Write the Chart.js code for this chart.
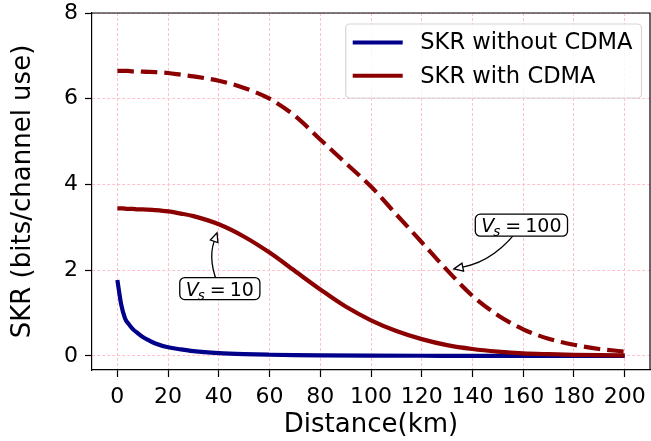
<!DOCTYPE html>
<html>
<head>
<meta charset="utf-8">
<script src="https://cdn.jsdelivr.net/npm/chart.js@4.4.0/dist/chart.umd.min.js"></script>
<style>
  html, body { margin: 0; padding: 0; background: #fff; }
</style>
</head>
<body>
<canvas id="skrChart" width="651" height="441"></canvas>
<script>
// values
const distanceKm = [0, 2, 4, 6, 8, 10, 15, 20, 25, 30, 40, 50, 60, 70, 80, 90, 100,
  110, 120, 130, 140, 150, 160, 170, 180, 190, 200];
const skrCdmaVs10 = [3.44, 3.44, 3.43, 3.43, 3.42, 3.42, 3.4, 3.37, 3.32, 3.26, 3.07, 2.78,
  2.41, 1.98, 1.55, 1.15, 0.83, 0.58, 0.39, 0.25, 0.16, 0.1, 0.06, 0.04, 0.025, 0.015, 0.01];
const skrCdmaVs100 = [6.65, 6.65, 6.65, 6.64, 6.64, 6.63, 6.62, 6.6, 6.56, 6.52, 6.42, 6.25,
  6.0, 5.6, 5.05, 4.5, 3.95, 3.3, 2.65, 2.0, 1.4, 0.95, 0.62, 0.4, 0.26, 0.16, 0.1];
// the no-CDMA curve needs finer steps near 0 km
const distanceNoCdma = [0, 1.5, 3, 4.5, 6, 8, 10, 12.5, 15, 20, 25, 30, 40, 50, 60, 70, 80,
  100, 120, 140, 160, 180, 200];
const skrWithoutCdma = [1.77, 1.2, 0.88, 0.74, 0.63, 0.53, 0.44, 0.36, 0.29, 0.2, 0.15, 0.11,
  0.065, 0.04, 0.026, 0.017, 0.011, 0.005, 0.002, 0.001, 0.0005, 0, 0];
const xTicks = [0, 20, 40, 60, 80, 100, 120, 140, 160, 180, 200];
const yTicks = [0, 2, 4, 6, 8];
const legendLabels = ["SKR without CDMA", "SKR with CDMA"];
// annotation: text centre and arrow tip, in data units
const notes = [
  { sub: "10", tx: 40.4, ty: 1.57, px: 39.3, py: 2.87 },
  { sub: "100", tx: 159.3, ty: 3.05, px: 132.7, py: 2.03 }
];

const BLUE = "#00008b";
const RED = "#8b0000";
const FONT = "'DejaVu Sans', sans-serif";

function pts(xs, ys) {
  return xs.map((d, i) => ({ x: d, y: ys[i] }));
}

function drawNote(ctx, cx, cy, tx, ty, sub) {
  // curved arrow from text centre to the tip (arc3-like)
  const mx = (cx + tx) / 2, my = (cy + ty) / 2;
  const dx = tx - cx, dy = ty - cy;
  const qx = mx + 0.2 * dy, qy = my - 0.2 * dx;
  let ux = tx - qx, uy = ty - qy;
  const len = Math.hypot(ux, uy);
  ux /= len; uy /= len;
  const bx = tx - 9 * ux, by = ty - 9 * uy;
  ctx.strokeStyle = "#000";
  ctx.lineWidth = 1.3;
  ctx.beginPath();
  ctx.moveTo(cx, cy);
  ctx.quadraticCurveTo(qx, qy, bx, by);
  ctx.stroke();
  ctx.beginPath();
  ctx.moveTo(tx, ty);
  ctx.lineTo(bx - 4 * uy, by + 4 * ux);
  ctx.lineTo(bx + 4 * uy, by - 4 * ux);
  ctx.closePath();
  ctx.fillStyle = "#fff";
  ctx.fill();
  ctx.stroke();

  // text pieces: italic V, italic subscript s, "=", N
  const big = "19px " + FONT, small = "13.5px " + FONT;
  ctx.font = "italic " + big;
  const wV = ctx.measureText("V").width;
  ctx.font = "italic " + small;
  const wS = ctx.measureText("s").width;
  ctx.font = big;
  const wEq = ctx.measureText("=").width;
  const wN = ctx.measureText(sub).width;
  const gap = 4;
  const textW = wV + wS + gap + wEq + gap + wN;
  const w = textW + 12, h = 22;
  const left = cx - w / 2, top = cy - h / 2;
  ctx.beginPath();
  ctx.roundRect(left, top, w, h, 5);
  ctx.fillStyle = "#fff";
  ctx.fill();
  ctx.lineWidth = 1.3;
  ctx.stroke();
  ctx.fillStyle = "#000";
  ctx.textBaseline = "alphabetic";
  ctx.textAlign = "left";
  const base = cy + 7;
  let x = left + 6;
  ctx.font = "italic " + big;
  ctx.fillText("V", x, base);
  x += wV;
  ctx.font = "italic " + small;
  ctx.fillText("s", x - 1, base + 4);
  x += wS + gap;
  ctx.font = big;
  ctx.fillText("=", x, base);
  x += wEq + gap;
  ctx.fillText(sub, x, base);
}

function drawLegend(chart) {
  const ctx = chart.ctx, a = chart.chartArea;
  const items = legendLabels.map(l => chart.data.datasets.find(d => d.label === l));
  ctx.font = "22.6px " + FONT;
  const textW = Math.max(...items.map(d => ctx.measureText(d.label).width));
  const w = 7 + 50 + 17.5 + textW + 9, h = 74;
  const left = a.right - 8.5 - w, top = a.top + 11;
  ctx.beginPath();
  ctx.roundRect(left, top, w, h, 4);
  ctx.fillStyle = "rgba(255,255,255,0.8)";
  ctx.fill();
  ctx.strokeStyle = "#d6d6d6";
  ctx.lineWidth = 1.2;
  ctx.stroke();
  items.forEach((d, i) => {
    const y = top + 18.5 + i * 33.3;
    ctx.strokeStyle = d.borderColor;
    ctx.lineWidth = 4;
    ctx.setLineDash([]);
    ctx.beginPath();
    ctx.moveTo(left + 7, y);
    ctx.lineTo(left + 57, y);
    ctx.stroke();
    ctx.fillStyle = "#000";
    ctx.textAlign = "left";
    ctx.textBaseline = "middle";
    ctx.fillText(d.label, left + 74.5, y + 1);
  });
}

const extras = {
  id: "extras",
  afterDraw(chart) {
    const { ctx, chartArea: a, scales } = chart;
    ctx.save();
    ctx.strokeStyle = "#000";
    ctx.lineWidth = 1.2;
    ctx.beginPath();
    ctx.moveTo(a.left, a.top);
    ctx.lineTo(a.right, a.top);
    ctx.lineTo(a.right, a.bottom);
    ctx.stroke();
    notes.forEach(n => drawNote(ctx,
      scales.x.getPixelForValue(n.tx), scales.y.getPixelForValue(n.ty),
      scales.x.getPixelForValue(n.px), scales.y.getPixelForValue(n.py), n.sub));
    drawLegend(chart);
    ctx.restore();
  }
};

Chart.defaults.font.family = FONT;
Chart.defaults.color = "#000";

const gridOpts = {
  color: "#ffc0cb",
  lineWidth: 1,
  tickColor: "#000",
  tickLength: 7,
  tickWidth: 1.2,
  tickBorderDash: []
};

new Chart(document.getElementById("skrChart").getContext("2d"), {
  type: "line",
  data: {
    datasets: [
      {
        label: "SKR with CDMA",
        data: pts(distanceKm, skrCdmaVs10),
        borderColor: RED,
        borderWidth: 4.2,
        cubicInterpolationMode: "monotone",
        pointRadius: 0,
        order: 1
      },
      {
        label: "SKR with CDMA (Vs=100)",
        data: pts(distanceKm, skrCdmaVs100),
        borderColor: RED,
        borderWidth: 4.2,
        borderDash: [16.5, 7],
        cubicInterpolationMode: "monotone",
        pointRadius: 0,
        order: 0
      },
      {
        label: "SKR without CDMA",
        data: pts(distanceNoCdma, skrWithoutCdma),
        borderColor: BLUE,
        borderWidth: 4.2,
        cubicInterpolationMode: "monotone",
        pointRadius: 0,
        order: 2
      }
    ]
  },
  options: {
    responsive: false,
    animation: false,
    devicePixelRatio: 1,
    layout: { padding: { top: 13, right: 1, left: 0, bottom: 0 } },
    plugins: { legend: { display: false }, tooltip: { enabled: false } },
    scales: {
      x: {
        type: "linear",
        min: -10,
        max: 210,
        afterBuildTicks: s => { s.ticks = xTicks.map(v => ({ value: v })); },
        afterFit: s => { s.height = 71; s.paddingLeft = 0; s.paddingRight = 0; },
        ticks: { font: { size: 22 }, padding: 7, maxRotation: 0, autoSkip: false },
        grid: gridOpts,
        border: { display: true, color: "#000", width: 1.2, dash: [3, 2] },
        title: { display: true, text: "Distance(km)", font: { size: 26 }, padding: { top: -4.5, bottom: 0 } }
      },
      y: {
        type: "linear",
        min: -0.33,
        max: 8,
        afterBuildTicks: s => { s.ticks = yTicks.map(v => ({ value: v })); },
        afterFit: s => { s.width = 92; s.paddingTop = 0; s.paddingBottom = 0; },
        ticks: { font: { size: 22 }, padding: 7 },
        grid: gridOpts,
        border: { display: true, color: "#000", width: 1.2, dash: [3, 2] },
        title: { display: true, text: "SKR (bits/channel use)", font: { size: 26 }, padding: { top: 7.5, bottom: 0 } }
      }
    }
  },
  plugins: [extras]
});
</script>
</body>
</html>
